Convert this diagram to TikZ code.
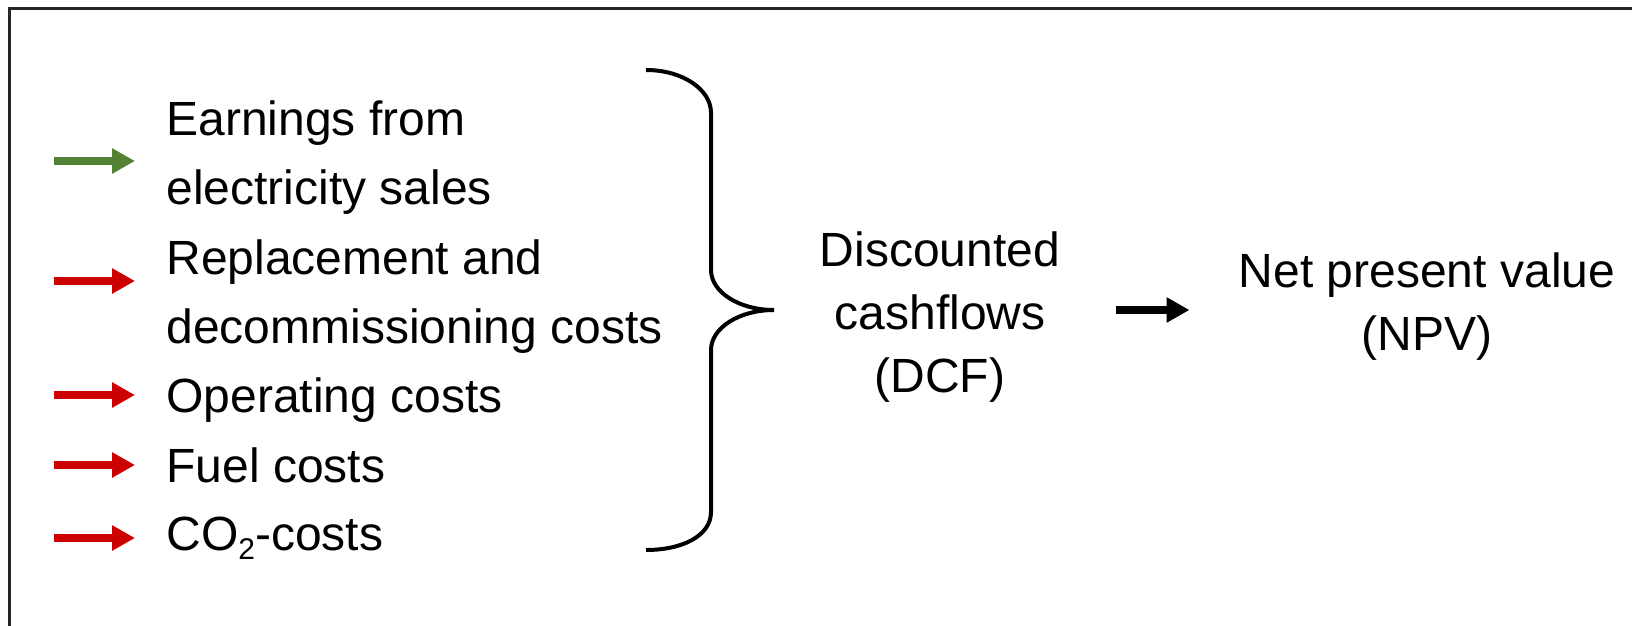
\documentclass[tikz,border=0pt]{standalone}
\usepackage{fontspec}
\setmainfont{Liberation Sans}
\usetikzlibrary{arrows.meta,calc,positioning}
\definecolor{gain}{RGB}{84,130,53}
\definecolor{loss}{RGB}{204,0,0}
\tikzset{
  item/.style={anchor=base west,inner sep=0pt,align=left,font=\fontsize{24}{34.5}\selectfont},
  result/.style={anchor=base,inner sep=0pt,align=center,font=\fontsize{24}{31.5}\selectfont},
  flow/.style={-{Triangle[length=11.5pt,width=12pt]},line width=4pt},
  frame/.style={line width=1.5pt,draw=black!85},
  bracket/.style={line width=2pt}
}
\newcommand{\lowtwo}{\raisebox{-4.5pt}{\fontsize{15}{15}\selectfont 2}}
\begin{document}
\begin{tikzpicture}[x=0.5pt,y=-0.5pt]
	\useasboundingbox (0,0) rectangle (1632,626);
	\draw[frame] (9,660) |- (1660,9);
	\node[item] (earn) at (166,204) {Earnings from\\electricity sales};
	\node[item] (repl) at (166,343) {Replacement and\\decommissioning costs};
	\node[item] (oper) at (166,412) {Operating costs};
	\node[item] (fuel) at (166,482) {Fuel costs};
	\node[item] (co2) at (166,550) {CO\lowtwo-costs};
	\coordinate (t_1) at (54,161);
	\coordinate (t_2) at (54,281);
	\coordinate (t_3) at (54,395);
	\coordinate (t_4) at (54,465);
	\coordinate (t_5) at (54,538);
	\foreach \t/\n/\c in {t_1/earn/gain,t_2/repl/loss,t_3/oper/loss,t_4/fuel/loss,t_5/co2/loss}
		\draw[flow,\c,shorten >=15.5pt] (\t) -- (\t -| \n.west);
	\coordinate (top) at (646,70);
	\coordinate (tip) at (774,310);
	\coordinate (bottom) at (646,550);
	\draw[bracket] (top) .. controls +(36,0) and +(0,-24) .. (711,113) -- (711,270)
		.. controls +(0,22) and +(-35,0) .. (tip)
		.. controls +(-35,0) and +(0,-22) .. (711,350) -- (711,512)
		.. controls +(0,24) and +(36,0) .. (bottom);
	\node[result] (dcf) at (940,392) {Discounted\\cashflows\\(DCF)};
	\node[result] (npv) at (1427,350) {Net present value\\(NPV)};
	\draw[flow] ($(dcf.east |- tip)+(56,0)$) -- ($(npv.west |- tip)+(-49,0)$);
\end{tikzpicture}
\end{document}
